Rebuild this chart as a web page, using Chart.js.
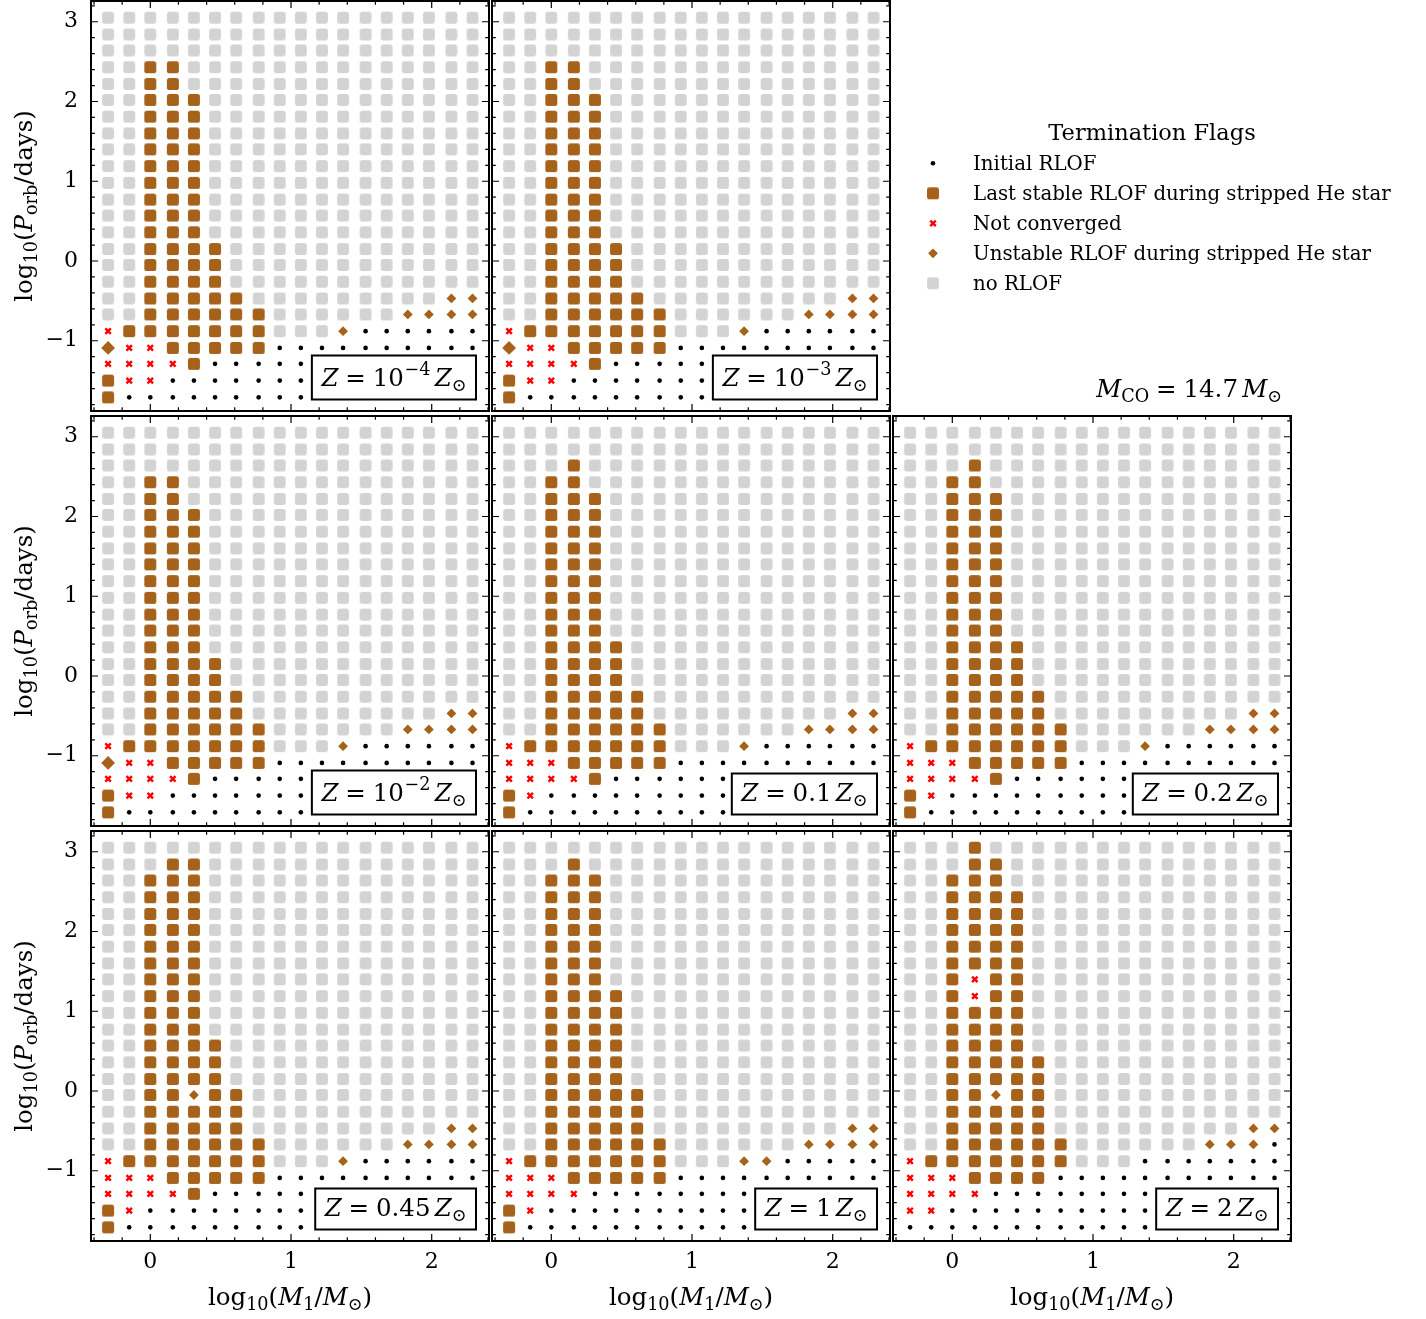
<!DOCTYPE html>
<html>
<head>
<meta charset="utf-8">
<script src="https://cdn.jsdelivr.net/npm/chart.js@4.4.1/dist/chart.umd.min.js"></script>
<style>
  html, body { margin: 0; padding: 0; background: #ffffff; }
  #fig { position: relative; width: 1426px; height: 1319px; overflow: hidden; background: #ffffff; }
  #fig canvas { position: absolute; }
</style>
</head>
<body>
<div id="fig"></div>
<script>
// ---------------------------------------------------------------------------
// Grid of binaries: primary mass (columns) x orbital period (rows)
// ---------------------------------------------------------------------------
const log10M1 = [-0.30, -0.15, 0.00, 0.16, 0.31, 0.46, 0.61, 0.77, 0.92,
                 1.07, 1.22, 1.37, 1.53, 1.68, 1.83, 1.98, 2.14, 2.29];

// rows from the longest to the shortest period
const log10Porb = [3.05, 2.84, 2.64, 2.43, 2.22, 2.02, 1.81, 1.60, 1.40, 1.19,
                   0.98, 0.77, 0.57, 0.36, 0.15, -0.05, -0.26, -0.47, -0.67,
                   -0.88, -1.09, -1.29, -1.50, -1.71];

const xMajorTicks = [0, 1, 2];
const xMinorTicks = [-0.4, -0.2, 0.2, 0.4, 0.6, 0.8, 1.2, 1.4, 1.6, 1.8, 2.2, 2.4];
const yMajorTicks = [-1, 0, 1, 2, 3];
const yMinorTicks = [-1.8, -1.6, -1.4, -1.2, -0.8, -0.6, -0.4, -0.2, 0.2, 0.4, 0.6, 0.8,
                     1.2, 1.4, 1.6, 1.8, 2.2, 2.4, 2.6, 2.8, 3.2];

// termination flag codes
//   .  Initial RLOF
//   o  Last stable RLOF during stripped He star
//   x  Not converged
//   d  Unstable RLOF during stripped He star (D: drawn with a larger marker)
//   g  no RLOF
const flagCodes = ['.', 'o', 'x', 'd', 'g'];
const flagLabels = ['Initial RLOF', 'Last stable RLOF during stripped He star',
                    'Not converged', 'Unstable RLOF during stripped He star', 'no RLOF'];

// metallicity of each panel (in units of Z_sun), as printed in the panel boxes
const metallicities = ['10^-4', '10^-3', '10^-2', '0.1', '0.2', '0.45', '1', '2'];

const flagsZ1em4 = [
  'gggggg gggggg gggggg',
  'gggggg gggggg gggggg',
  'gggggg gggggg gggggg',
  'ggoogg gggggg gggggg',
  'ggoogg gggggg gggggg',
  'ggooog gggggg gggggg',
  'ggooog gggggg gggggg',
  'ggooog gggggg gggggg',
  'ggooog gggggg gggggg',
  'ggooog gggggg gggggg',
  'ggooog gggggg gggggg',
  'ggooog gggggg gggggg',
  'ggooog gggggg gggggg',
  'ggooog gggggg gggggg',
  'ggoooo gggggg gggggg',
  'ggoooo gggggg gggggg',
  'ggoooo gggggg gggggg',
  'ggoooo oggggg ggggdd',
  'ggoooo oogggg ggdddd',
  'xooooo oogggd ......',
  'Dxxooo oo.... ......',
  'xxxxo. ...... ......',
  'oxx... ...... ......',
  'o..... ...... ......'
];

const flagsZ1em3 = [
  'gggggg gggggg gggggg',
  'gggggg gggggg gggggg',
  'gggggg gggggg gggggg',
  'ggoogg gggggg gggggg',
  'ggoogg gggggg gggggg',
  'ggooog gggggg gggggg',
  'ggooog gggggg gggggg',
  'ggooog gggggg gggggg',
  'ggooog gggggg gggggg',
  'ggooog gggggg gggggg',
  'ggooog gggggg gggggg',
  'ggooog gggggg gggggg',
  'ggooog gggggg gggggg',
  'ggooog gggggg gggggg',
  'ggoooo gggggg gggggg',
  'ggoooo gggggg gggggg',
  'ggoooo gggggg gggggg',
  'ggoooo oggggg ggggdd',
  'ggoooo oogggg ggdddd',
  'xooooo oogggd ......',
  'Dxxooo oo.... ......',
  'xxxxo. ...... ......',
  'oxx... ...... ......',
  'o..... ...... ......'
];

const flagsZ1em2 = [
  'gggggg gggggg gggggg',
  'gggggg gggggg gggggg',
  'gggggg gggggg gggggg',
  'ggoogg gggggg gggggg',
  'ggoogg gggggg gggggg',
  'ggooog gggggg gggggg',
  'ggooog gggggg gggggg',
  'ggooog gggggg gggggg',
  'ggooog gggggg gggggg',
  'ggooog gggggg gggggg',
  'ggooog gggggg gggggg',
  'ggooog gggggg gggggg',
  'ggooog gggggg gggggg',
  'ggooog gggggg gggggg',
  'ggoooo gggggg gggggg',
  'ggoooo gggggg gggggg',
  'ggoooo oggggg gggggg',
  'ggoooo oggggg ggggdd',
  'ggoooo oogggg ggdddd',
  'xooooo oogggd ......',
  'Dxxooo oo.... ......',
  'xxxxo. ...... ......',
  'oxx... ...... ......',
  'o..... ...... ......'
];

const flagsZ0p1 = [
  'gggggg gggggg gggggg',
  'gggggg gggggg gggggg',
  'gggogg gggggg gggggg',
  'ggoogg gggggg gggggg',
  'ggooog gggggg gggggg',
  'ggooog gggggg gggggg',
  'ggooog gggggg gggggg',
  'ggooog gggggg gggggg',
  'ggooog gggggg gggggg',
  'ggooog gggggg gggggg',
  'ggooog gggggg gggggg',
  'ggooog gggggg gggggg',
  'ggooog gggggg gggggg',
  'ggoooo gggggg gggggg',
  'ggoooo gggggg gggggg',
  'ggoooo gggggg gggggg',
  'ggoooo oggggg gggggg',
  'ggoooo oggggg ggggdd',
  'ggoooo oogggg ggdddd',
  'xooooo oogggd ......',
  'xxxooo oo.... ......',
  'xxxxo. ...... ......',
  'ox.... ...... ......',
  'o..... ...... ......'
];

const flagsZ0p2 = [
  'gggggg gggggg gggggg',
  'gggggg gggggg gggggg',
  'gggogg gggggg gggggg',
  'ggoogg gggggg gggggg',
  'ggooog gggggg gggggg',
  'ggooog gggggg gggggg',
  'ggooog gggggg gggggg',
  'ggooog gggggg gggggg',
  'ggooog gggggg gggggg',
  'ggooog gggggg gggggg',
  'ggooog gggggg gggggg',
  'ggooog gggggg gggggg',
  'ggooog gggggg gggggg',
  'ggoooo gggggg gggggg',
  'ggoooo gggggg gggggg',
  'ggoooo gggggg gggggg',
  'ggoooo oggggg gggggg',
  'ggoooo oggggg ggggdd',
  'ggoooo oogggg ggdddd',
  'xooooo oogggd ......',
  'xxxooo oo.... ......',
  'xxxxo. ...... ......',
  'ox.... ...... ......',
  'o..... ...... ......'
];

const flagsZ0p45 = [
  'gggggg gggggg gggggg',
  'gggoog gggggg gggggg',
  'ggooog gggggg gggggg',
  'ggooog gggggg gggggg',
  'ggooog gggggg gggggg',
  'ggooog gggggg gggggg',
  'ggooog gggggg gggggg',
  'ggooog gggggg gggggg',
  'ggooog gggggg gggggg',
  'ggooog gggggg gggggg',
  'ggooog gggggg gggggg',
  'ggooog gggggg gggggg',
  'ggoooo gggggg gggggg',
  'ggoooo gggggg gggggg',
  'ggoooo gggggg gggggg',
  'ggoodo oggggg gggggg',
  'ggoooo oggggg gggggg',
  'ggoooo oggggg ggggdd',
  'ggoooo oogggg ggdddd',
  'xooooo oogggd ......',
  'xxxooo oo.... ......',
  'xxxxo. ...... ......',
  'ox.... ...... ......',
  'o..... ...... ......'
];

const flagsZ1 = [
  'gggggg gggggg gggggg',
  'gggogg gggggg gggggg',
  'ggooog gggggg gggggg',
  'ggooog gggggg gggggg',
  'ggooog gggggg gggggg',
  'ggooog gggggg gggggg',
  'ggooog gggggg gggggg',
  'ggooog gggggg gggggg',
  'ggooog gggggg gggggg',
  'ggoooo gggggg gggggg',
  'ggoooo gggggg gggggg',
  'ggoooo gggggg gggggg',
  'ggoooo gggggg gggggg',
  'ggoooo gggggg gggggg',
  'ggoooo gggggg gggggg',
  'ggoooo oggggg gggggg',
  'ggoooo oggggg gggggg',
  'ggoooo oggggg ggggdd',
  'ggoooo oogggg ggdddd',
  'xooooo oogggd d.....',
  'xxxooo oo.... ......',
  'xxxx.. ...... ......',
  'ox.... ...... ......',
  'o..... ...... ......'
];

const flagsZ2 = [
  'gggogg gggggg gggggg',
  'gggoog gggggg gggggg',
  'ggooog gggggg gggggg',
  'ggoooo gggggg gggggg',
  'ggoooo gggggg gggggg',
  'ggoooo gggggg gggggg',
  'ggoooo gggggg gggggg',
  'ggoooo gggggg gggggg',
  'ggoxoo gggggg gggggg',
  'ggoxoo gggggg gggggg',
  'ggoooo gggggg gggggg',
  'ggoooo gggggg gggggg',
  'ggoooo gggggg gggggg',
  'ggoooo oggggg gggggg',
  'ggoooo oggggg gggggg',
  'ggoodo oggggg gggggg',
  'ggoooo oggggg gggggg',
  'ggoooo oggggg ggggdd',
  'ggoooo oogggg ggddd.',
  'xooooo ooggg. ......',
  'xxxooo o..... ......',
  'xxxx.. ...... ......',
  'xx.... ...... ......',
  '...... ...... ......'
];

const flagGrids = [flagsZ1em4, flagsZ1em3, flagsZ1em2, flagsZ0p1, flagsZ0p2,
                   flagsZ0p45, flagsZ1, flagsZ2];

flagGrids.forEach((grid, i) => {
  if (grid.length !== log10Porb.length) throw new Error('grid ' + i + ' has ' + grid.length + ' rows');
  grid.forEach((row, j) => {
    if (row.replace(/ /g, '').length !== log10M1.length) throw new Error('grid ' + i + ' row ' + j + ' has wrong length');
  });
});

// ---------------------------------------------------------------------------
// Figure geometry and styles
// ---------------------------------------------------------------------------
const FONT = '"DejaVu Serif", "Liberation Serif", serif';
const BROWN = '#a6611a';
const GRAY = '#d3d3d3';

const FRAME_W = 398, FRAME_H = 410;
const COL_LEFT = [91, 492, 893];
const ROW_TOP = [1, 416, 831];
const PAD = { l: 91, t: 3, r: 3, b: 80 };
const X_MIN = -0.4215, X_MAX = 2.4072;
const Y_MIN = -1.881, Y_MAX = 3.260;

const fig = document.getElementById('fig');

function addCanvas(left, top, w, h) {
  const c = document.createElement('canvas');
  c.width = w; c.height = h;
  c.style.left = left + 'px'; c.style.top = top + 'px';
  c.style.width = w + 'px'; c.style.height = h + 'px';
  fig.appendChild(c);
  return c;
}

function roundedSquare(color, side, corner) {
  const n = Math.ceil(side) + 2;
  const c = document.createElement('canvas');
  c.width = n; c.height = n;
  const g = c.getContext('2d');
  const o = (n - side) / 2;
  g.fillStyle = color;
  g.beginPath();
  if (g.roundRect) g.roundRect(o, o, side, side, corner);
  else g.rect(o, o, side, side);
  g.fill();
  return c;
}

const brownSquare = roundedSquare(BROWN, 12, 2.6);
const graySquare = roundedSquare(GRAY, 11.8, 2.6);

const flagStyles = {
  '.': { pointStyle: 'circle', pointRadius: 2.3, pointBackgroundColor: '#000000', pointBorderWidth: 0 },
  'o': { pointStyle: brownSquare, pointRadius: 6, pointBorderWidth: 0 },
  'x': { pointStyle: 'crossRot', pointRadius: 3.9, pointBorderColor: '#ff0000', pointBorderWidth: 2.4,
         pointBackgroundColor: '#ff0000' },
  'd': { pointStyle: 'rectRot', pointRadius: c => (c.raw && c.raw.big ? 6.9 : 4.9),
         pointBackgroundColor: BROWN, pointBorderWidth: 0 },
  'g': { pointStyle: graySquare, pointRadius: 6, pointBorderWidth: 0 }
};

// ---------------------------------------------------------------------------
// Small math-style text renderer (italics, sub- and superscripts)
// ---------------------------------------------------------------------------
function fontStr(size, italic) { return (italic ? 'italic ' : '') + size.toFixed(2) + 'px ' + FONT; }

function layoutRich(ctx, segs, size) {
  let w = 0;
  const items = [];
  for (const s of segs) {
    if (s.sp) { w += s.sp * size; continue; }
    const small = s.sub || s.sup;
    const f = fontStr(small ? size * 0.72 : size, s.it);
    ctx.font = f;
    const dy = s.sub ? 0.22 * size : (s.sup ? -0.42 * size : 0);
    items.push({ t: s.t, x: w, dy: dy, font: f });
    w += ctx.measureText(s.t).width;
  }
  return { items: items, width: w };
}

function drawRich(ctx, segs, size, x, y, align) {
  const L = layoutRich(ctx, segs, size);
  const x0 = align === 'center' ? x - L.width / 2 : (align === 'right' ? x - L.width : x);
  ctx.textAlign = 'left';
  ctx.textBaseline = 'alphabetic';
  for (const it of L.items) {
    ctx.font = it.font;
    ctx.fillText(it.t, x0 + it.x, y + it.dy);
  }
  return L.width;
}

const yTitle = [{ t: 'log' }, { t: '10', sub: 1 }, { t: '(' }, { t: 'P', it: 1 }, { t: 'orb', sub: 1 }, { t: '/days)' }];
const xTitle = [{ t: 'log' }, { t: '10', sub: 1 }, { t: '(' }, { t: 'M', it: 1 }, { t: '1', sub: 1 },
                { t: '/' }, { t: 'M', it: 1 }, { t: '\u2299', sub: 1 }, { t: ')' }];

function metallicitySegs(z) {
  const segs = [{ t: 'Z', it: 1 }, { sp: 0.28 }, { t: '=' }, { sp: 0.28 }];
  if (z.indexOf('^') >= 0) {
    const p = z.split('^');
    segs.push({ t: p[0] }, { sp: 0.03 }, { t: p[1].replace('-', '\u2212'), sup: 1 });
  } else {
    segs.push({ t: z });
  }
  segs.push({ sp: 0.17 }, { t: 'Z', it: 1 }, { t: '\u2299', sub: 1 });
  return segs;
}

// ---------------------------------------------------------------------------
// Panel decorations: inward ticks on all sides, frame, metallicity box, titles
// ---------------------------------------------------------------------------
const panelDecor = {
  id: 'panelDecor',
  afterDraw(chart, args, o) {
    const ctx = chart.ctx;
    const a = chart.chartArea;
    const xs = chart.scales.x, ys = chart.scales.y;
    ctx.save();

    // metallicity box, lower right corner
    if (o.zLabel) {
      const size = 24.5;
      const segs = metallicitySegs(o.zLabel);
      const L = layoutRich(ctx, segs, size);
      const hasSup = o.zLabel.indexOf('^') >= 0;
      const padX = 9.5;
      const bw = L.width + 2 * padX;
      const bh = hasSup ? 44 : 41;
      const right = a.right - 13, bottom = a.bottom - 11.5;
      ctx.fillStyle = '#ffffff';
      ctx.fillRect(right - bw, bottom - bh, bw, bh);
      ctx.lineWidth = 2;
      ctx.strokeStyle = '#000000';
      ctx.strokeRect(right - bw, bottom - bh, bw, bh);
      ctx.fillStyle = '#000000';
      drawRich(ctx, segs, size, right - bw + padX, bottom - 14, 'left');
    }

    // inward ticks
    ctx.strokeStyle = '#000000';
    ctx.lineWidth = 1.2;
    ctx.beginPath();
    const vTick = (v, len) => {
      const px = xs.getPixelForValue(v);
      ctx.moveTo(px, a.bottom); ctx.lineTo(px, a.bottom - len);
      ctx.moveTo(px, a.top); ctx.lineTo(px, a.top + len);
    };
    const hTick = (v, len) => {
      const py = ys.getPixelForValue(v);
      ctx.moveTo(a.left, py); ctx.lineTo(a.left + len, py);
      ctx.moveTo(a.right, py); ctx.lineTo(a.right - len, py);
    };
    xMajorTicks.forEach(v => vTick(v, 7));
    xMinorTicks.filter(v => v > X_MIN && v < X_MAX).forEach(v => vTick(v, 3.8));
    yMajorTicks.forEach(v => hTick(v, 7));
    yMinorTicks.filter(v => v > Y_MIN && v < Y_MAX).forEach(v => hTick(v, 3.8));
    ctx.stroke();

    // frame
    ctx.lineWidth = 2;
    ctx.strokeRect(a.left, a.top, a.right - a.left, a.bottom - a.top);

    // axis titles
    ctx.fillStyle = '#000000';
    if (o.yTitle) {
      ctx.save();
      ctx.translate(32, (a.top + a.bottom) / 2);
      ctx.rotate(-Math.PI / 2);
      drawRich(ctx, yTitle, 24.5, 0, 0, 'center');
      ctx.restore();
    }
    if (o.xTitle) {
      drawRich(ctx, xTitle, 24.5, (a.left + a.right) / 2, a.bottom + 64, 'center');
    }
    ctx.restore();
  }
};

function tickText(v) { return v < 0 ? '\u2212' + Math.abs(v) : String(v); }

function noLabelOverhang(s) {
  s.paddingTop = 0; s.paddingBottom = 0; s.paddingLeft = 0; s.paddingRight = 0;
}

function buildDatasets(grid) {
  const buckets = {};
  flagCodes.forEach(k => { buckets[k] = []; });
  grid.forEach((row, ri) => {
    const cells = row.replace(/ /g, '');
    for (let ci = 0; ci < cells.length; ci++) {
      const ch = cells[ci];
      const key = ch === 'D' ? 'd' : ch;
      buckets[key].push({ x: log10M1[ci], y: log10Porb[ri], big: ch === 'D' });
    }
  });
  return flagCodes.map((k, i) => Object.assign({ label: flagLabels[i], data: buckets[k] }, flagStyles[k]));
}

// panel placement: [row, col]
const panelSlots = [[0, 0], [0, 1], [1, 0], [1, 1], [1, 2], [2, 0], [2, 1], [2, 2]];

panelSlots.forEach(([row, col], i) => {
  const left = COL_LEFT[col] - PAD.l;
  const top = ROW_TOP[row] - PAD.t;
  const canvas = addCanvas(left, top, PAD.l + FRAME_W + PAD.r, PAD.t + FRAME_H + PAD.b);
  const showY = col === 0;
  const showX = row === 2;
  new Chart(canvas, {
    type: 'scatter',
    data: { datasets: buildDatasets(flagGrids[i]) },
    options: {
      responsive: false,
      animation: false,
      devicePixelRatio: 1,
      events: [],
      layout: { autoPadding: false, padding: { left: 0, top: PAD.t, right: PAD.r, bottom: 0 } },
      plugins: {
        legend: { display: false },
        tooltip: { enabled: false },
        panelDecor: { zLabel: metallicities[i], yTitle: showY, xTitle: showX }
      },
      scales: {
        x: {
          type: 'linear', position: 'bottom', min: X_MIN, max: X_MAX,
          afterFit: s => { s.height = PAD.b; noLabelOverhang(s); },
          afterBuildTicks: s => { s.ticks = xMajorTicks.map(v => ({ value: v })); },
          grid: { display: false, drawTicks: false },
          border: { display: false },
          ticks: {
            display: showX, autoSkip: false, maxRotation: 0, padding: 8,
            color: '#000000', font: { family: FONT, size: 22 },
            callback: v => tickText(v)
          }
        },
        y: {
          type: 'linear', position: 'left', min: Y_MIN, max: Y_MAX,
          afterFit: s => { s.width = PAD.l; noLabelOverhang(s); },
          afterBuildTicks: s => { s.ticks = yMajorTicks.map(v => ({ value: v })); },
          grid: { display: false, drawTicks: false },
          border: { display: false },
          ticks: {
            display: showY, autoSkip: false, padding: 13,
            color: '#000000', font: { family: FONT, size: 22 },
            callback: v => tickText(v)
          }
        }
      }
    },
    plugins: [panelDecor]
  });
});

// ---------------------------------------------------------------------------
// Legend and CO-core mass annotation in the free upper-right cell
// ---------------------------------------------------------------------------
const flagLegend = {
  id: 'flagLegend',
  afterDraw(chart) {
    const ctx = chart.ctx;
    ctx.save();
    ctx.fillStyle = '#000000';
    ctx.textBaseline = 'alphabetic';
    ctx.textAlign = 'center';
    ctx.font = fontStr(22.5, false);
    ctx.fillText('Termination Flags', 259, 140);

    const rowCenters = [163.3, 193.3, 223.3, 253.3, 283.3];
    flagCodes.forEach((k, i) => {
      const st = flagStyles[k];
      const y = rowCenters[i];
      ctx.save();
      ctx.fillStyle = st.pointBackgroundColor || '#000000';
      ctx.strokeStyle = st.pointBorderColor || '#000000';
      ctx.lineWidth = st.pointBorderWidth || 0;
      const radius = typeof st.pointRadius === 'function' ? 4.9 : st.pointRadius;
      Chart.helpers.drawPoint(ctx, { pointStyle: st.pointStyle, rotation: 0, radius: radius,
                                     borderWidth: st.pointBorderWidth || 0 }, 40, y);
      ctx.restore();
      ctx.textAlign = 'left';
      ctx.font = fontStr(19.8, false);
      ctx.fillText(flagLabels[i], 80, y + 7);
    });

    const mco = [{ t: 'M', it: 1 }, { t: 'CO', sub: 1 }, { sp: 0.28 }, { t: '=' }, { sp: 0.28 },
                 { t: '14.7' }, { sp: 0.17 }, { t: 'M', it: 1 }, { t: '\u2299', sub: 1 }];
    drawRich(ctx, mco, 24.5, 389, 397, 'right');
    ctx.restore();
  }
};

const legendCanvas = addCanvas(893, 0, 533, 414);
new Chart(legendCanvas, {
  type: 'scatter',
  data: { datasets: [] },
  options: {
    responsive: false, animation: false, devicePixelRatio: 1, events: [],
    layout: { autoPadding: false },
    plugins: { legend: { display: false }, tooltip: { enabled: false } },
    scales: { x: { display: false }, y: { display: false } }
  },
  plugins: [flagLegend]
});
</script>
</body>
</html>
